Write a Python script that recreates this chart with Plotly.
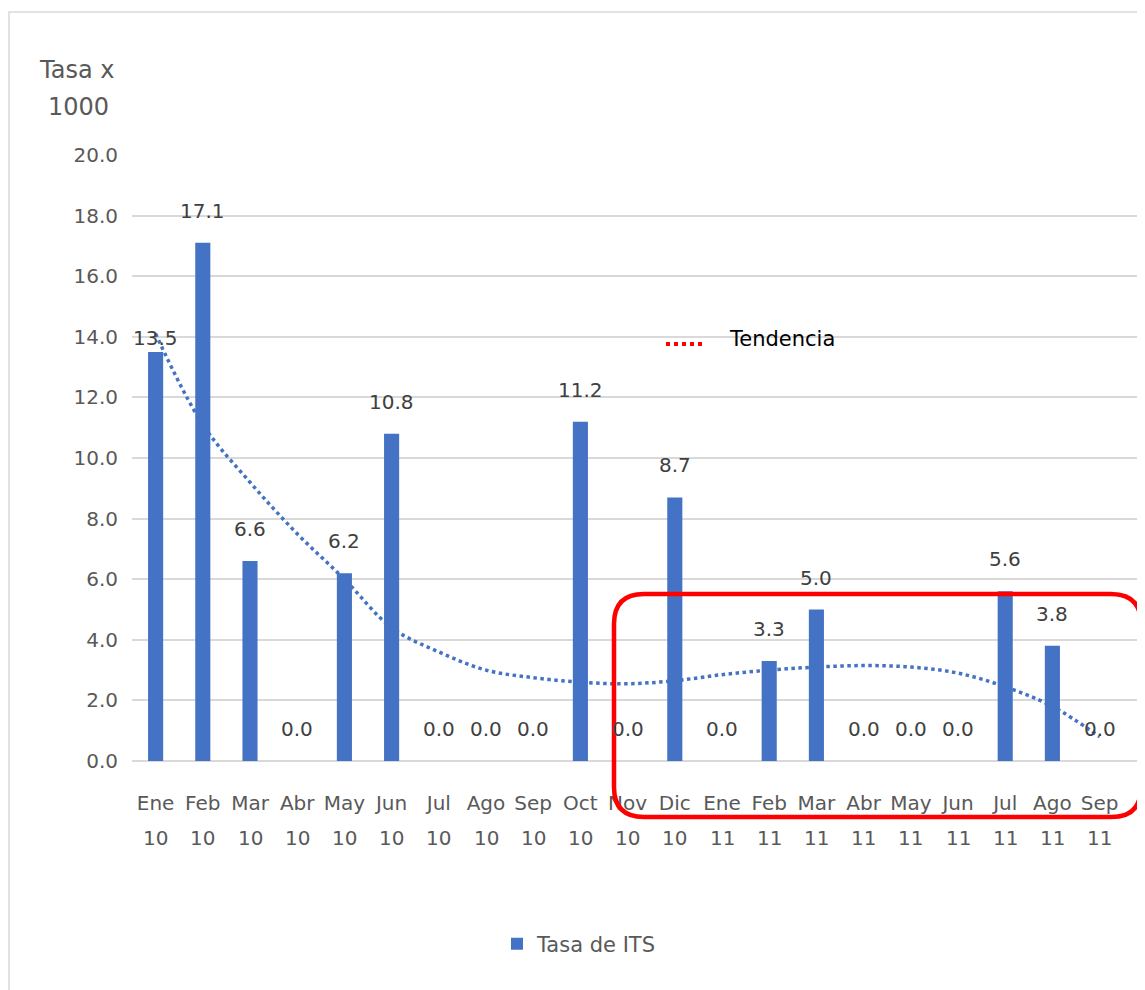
import plotly.graph_objects as go

months = ["Ene", "Feb", "Mar", "Abr", "May", "Jun", "Jul", "Ago", "Sep", "Oct", "Nov", "Dic",
          "Ene", "Feb", "Mar", "Abr", "May", "Jun", "Jul", "Ago", "Sep"]
years = ["10"] * 12 + ["11"] * 9
tasa_its = [13.5, 17.1, 6.6, 0.0, 6.2, 10.8, 0.0, 0.0, 0.0, 11.2, 0.0, 8.7,
            0.0, 3.3, 5.0, 0.0, 0.0, 0.0, 5.6, 3.8, 0.0]
tendencia = [14.1, 11.1, 9.2, 7.5, 6.0, 4.4, 3.6, 3.0, 2.75, 2.6, 2.55, 2.65,
             2.85, 3.0, 3.1, 3.15, 3.1, 2.9, 2.45, 1.8, 0.8]
y_ticks = [0, 2, 4, 6, 8, 10, 12, 14, 16, 18, 20]

idx = list(range(len(months)))
BLUE = "#4472C4"
GRAY = "#595959"
FONT = "DejaVu Sans"

OFF = 8  # page body margin
W, H = 1145 - OFF, 990 - OFF
L, R, T = 132 - OFF, 0, 155 - OFF
B = H - (761 - OFF)
pw = W - L - R
ph = H - T - B
step = 47.2
x0 = -0.5
x1 = x0 + pw / step

fig = go.Figure()
fig.add_trace(go.Bar(x=idx, y=tasa_its, name="Tasa de ITS", marker_color=BLUE,
                     marker_line_width=0, width=0.32, showlegend=True))
fig.add_trace(go.Scatter(x=idx, y=tendencia, mode="lines", line_shape="spline",
                         line=dict(color=BLUE, width=3.5, dash="dot"),
                         showlegend=False, hoverinfo="skip"))

annotations = []
for i, v in enumerate(tasa_its):
    annotations.append(dict(x=i, y=v, xref="x", yref="y", text=f"{v:.1f}",
                            showarrow=False, yanchor="middle",
                            yshift=14 if i == 0 else 32,
                            font=dict(family=FONT, size=20, color="#404040")))
for i, yr in enumerate(years):
    annotations.append(dict(x=i, y=0, xref="x", yref="y", text=yr, showarrow=False,
                            yanchor="middle", yshift=-77,
                            font=dict(family=FONT, size=20, color=GRAY)))

def px_x(p):
    return (p - OFF - L) / pw

def px_y(p):
    return (H - B - (p - OFF)) / ph

annotations += [
    dict(x=px_x(76), y=px_y(70), xref="paper", yref="paper", text="Tasa x",
         showarrow=False, xanchor="center", yanchor="middle",
         font=dict(family=FONT, size=24, color=GRAY)),
    dict(x=px_x(78), y=px_y(107), xref="paper", yref="paper", text="1000",
         showarrow=False, xanchor="center", yanchor="middle",
         font=dict(family=FONT, size=24, color=GRAY)),
    dict(x=px_x(727), y=px_y(339), xref="paper", yref="paper", text="Tendencia",
         showarrow=False, xanchor="left", yanchor="middle",
         font=dict(family=FONT, size=21, color="#000000")),
]

# rounded red rectangle
rx0, rx1 = px_x(614), px_x(1141)
ry0, ry1 = px_y(817), px_y(594)
crx = 30 / pw
cry = 30 / ph
path = (f"M {rx0+crx},{ry1} L {rx1-crx},{ry1} Q {rx1},{ry1} {rx1},{ry1-cry} "
        f"L {rx1},{ry0+cry} Q {rx1},{ry0} {rx1-crx},{ry0} "
        f"L {rx0+crx},{ry0} Q {rx0},{ry0} {rx0},{ry0+cry} "
        f"L {rx0},{ry1-cry} Q {rx0},{ry1} {rx0+crx},{ry1} Z")

shapes = [
    dict(type="rect", xref="paper", yref="paper", x0=px_x(9), x1=px_x(1170),
         y0=px_y(1010), y1=px_y(12), line=dict(color="#d9d9d9", width=1.5), layer="below"),
    dict(type="path", xref="paper", yref="paper", path=path,
         line=dict(color="#ff0000", width=4.5)),
    dict(type="line", xref="paper", yref="paper", x0=px_x(666), x1=px_x(706),
         y0=px_y(344), y1=px_y(344), line=dict(color="#ff0000", width=4, dash="dot")),
]

fig.update_layout(
    width=W, height=H,
    margin=dict(l=L, r=R, t=T, b=B, autoexpand=False),
    plot_bgcolor="white", paper_bgcolor="white",
    font=dict(family=FONT, size=20, color=GRAY),
    bargap=0.68,
    annotations=annotations,
    shapes=shapes,
    legend=dict(orientation="h", x=px_x(497), y=px_y(944), xanchor="left",
                yanchor="middle", font=dict(family=FONT, size=21, color=GRAY),
                itemwidth=30),
    xaxis=dict(range=[x0, x1], tickmode="array", tickvals=idx, ticktext=months,
               showgrid=False, zeroline=False, showline=False, ticks="",
               ticklabelstandoff=28, tickfont=dict(family=FONT, size=20, color=GRAY),
               fixedrange=True),
    yaxis=dict(range=[0, 20], tickmode="array", tickvals=y_ticks,
               ticktext=[f"{v:.1f}" for v in y_ticks],
               showgrid=True, gridcolor="#d9d9d9", gridwidth=1.5,
               zeroline=True, zerolinecolor="#d9d9d9", zerolinewidth=1.5,
               showline=False, ticks="", ticklabelstandoff=13,
               tickfont=dict(family=FONT, size=20, color=GRAY), fixedrange=True),
)

fig.write_html("out.html")
